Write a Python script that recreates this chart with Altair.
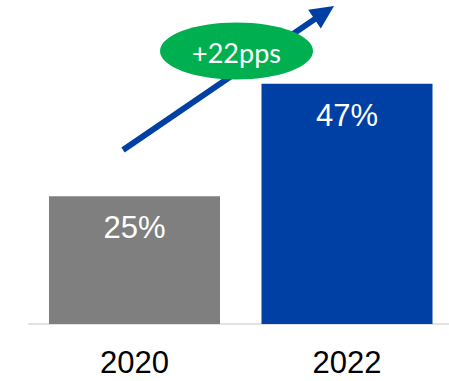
import altair as alt
import pandas as pd

# ---- data ----
years = ["2020", "2022"]
shares = [25, 47]
share_labels = ["25%", "47%"]
bar_colors = ["#7F7F7F", "#003FA4"]
change_label = "+22pps"

# ---- annotation anchors (data units: x = category index, y = percent) ----
arrow_start = (-0.054, 34.05)
arrow_end = (0.893, 60.93)
badge_pos = (0.480, 53.42)
baseline_span = (-0.501, 1.48)

BLUE = "#003FA4"
GREEN = "#00B050"
FONT = "Liberation Sans"

idx = list(range(len(years)))
half = 0.4024
bars_df = pd.DataFrame({
    "idx": idx,
    "year": years,
    "share": shares,
    "label": share_labels,
    "color": bar_colors,
})
bars_df["x0"] = bars_df["idx"] - half
bars_df["x1"] = bars_df["idx"] + half
bars_df["zero"] = 0

XS = alt.Scale(domain=[-0.63294, 1.48], nice=False, zero=False)
YS = alt.Scale(domain=[-11.16, 63.4], nice=False, zero=False)


def X(f):
    return alt.X(f, scale=XS, axis=None)


def Y(f):
    return alt.Y(f, scale=YS, axis=None)


base = alt.Chart(bars_df)

bars = base.mark_bar().encode(
    x=X("x0:Q"), x2="x1:Q",
    y=Y("share:Q"), y2="zero:Q",
    color=alt.Color("color:N", scale=None),
)

bar_text = base.mark_text(
    dy=42, baseline="alphabetic", fontSize=31, font=FONT, color="white"
).encode(x=X("idx:Q"), y=Y("share:Q"), text="label:N")

year_text = base.mark_text(
    dy=49, baseline="alphabetic", fontSize=31, font=FONT, color="#000000"
).encode(x=X("idx:Q"), y=Y("zero:Q"), text="year:N")

baseline_df = pd.DataFrame({"x": [baseline_span[0]], "x2": [baseline_span[1]], "y": [0]})
baseline = alt.Chart(baseline_df).mark_rule(color="#D9D9D9", strokeWidth=1.5).encode(
    x=X("x:Q"), x2="x2:Q", y=Y("y:Q")
)

arrow_df = pd.DataFrame({
    "x": [arrow_start[0]], "y": [arrow_start[1]],
    "x2": [arrow_end[0]], "y2": [arrow_end[1]],
})
arrow_line = alt.Chart(arrow_df).mark_rule(
    color=BLUE, strokeWidth=6
).encode(x=X("x:Q"), y=Y("y:Q"), x2="x2:Q", y2="y2:Q")

head_df = pd.DataFrame({"x": [arrow_end[0]], "y": [arrow_end[1]]})
arrow_head = alt.Chart(head_df).mark_point(
    shape="M0,-1L-0.96,1L0.96,1Z", size=557, angle=56, filled=True, color=BLUE,
    opacity=1, strokeWidth=0
).encode(x=X("x:Q"), y=Y("y:Q"))

ry = 0.3725
k = 0.5523
a = round(k * ry, 4)
ellipse_path = (
    f"M-1,0C-1,-{a},-{k},-{ry},0,-{ry}"
    f"C{k},-{ry},1,-{a},1,0"
    f"C1,{a},{k},{ry},0,{ry}"
    f"C-{k},{ry},-1,{a},-1,0Z"
)
badge_df = pd.DataFrame({"x": [badge_pos[0]], "y": [badge_pos[1]], "t": [change_label]})
badge = alt.Chart(badge_df).mark_point(
    shape=ellipse_path, size=153 * 153, filled=True, color=GREEN, opacity=1,
    strokeWidth=0
).encode(x=X("x:Q"), y=Y("y:Q"))
badge_text = alt.Chart(badge_df).mark_text(
    fontSize=27, font="Lato", color="white", baseline="alphabetic", dy=12
).encode(x=X("x:Q"), y=Y("y:Q"), text="t:N")

chart = alt.layer(
    baseline, bars, bar_text, year_text, arrow_line, arrow_head, badge, badge_text
).properties(
    width=449, height=381,
    autosize=alt.AutoSizeParams(type="none"),
    padding=0,
).configure_view(stroke=None)

chart.save("out.html", embed_options={"renderer": "svg", "actions": False})
